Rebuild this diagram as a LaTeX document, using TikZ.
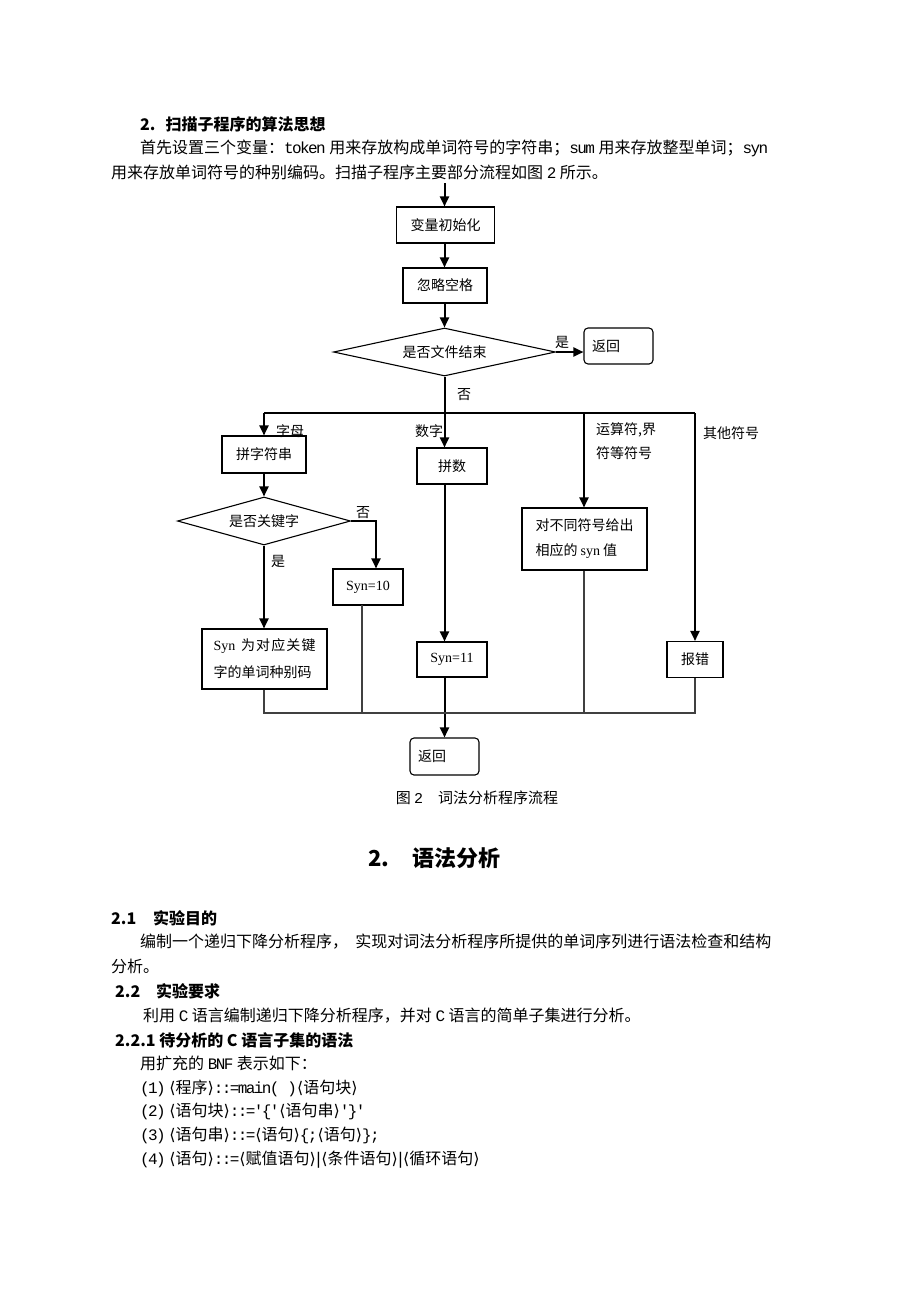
\documentclass[tikz,border=0pt]{standalone}
\usepackage{fontspec}
\setmainfont{Noto Sans CJK SC}
\newfontfamily\tnr{Liberation Serif}
\newfontfamily\lmo[LetterSpace=-10]{Liberation Mono}
\newfontfamily\djv{DejaVu Sans}
\usetikzlibrary{shapes.geometric,arrows.meta}
\newcommand\fsz[1]{\fontsize{#1pt}{#1pt}\selectfont}
\newcommand\lab{{\djv ⟨}}
\newcommand\rab{{\djv ⟩}}
\tikzset{
  txt/.style={anchor=west, inner sep=0pt, font=\fsz{16}},
  hd/.style={anchor=west, inner sep=0pt, font=\fsz{16}\bfseries},
  proc/.style={draw, line width=1.1pt, inner sep=0pt, font=\fsz{14}},
  dec/.style={draw, diamond, aspect=5, line width=1.1pt, inner sep=0pt, font=\fsz{14}},
  term/.style={draw, rounded corners=4pt, line width=1.1pt, inner ysep=0pt, inner xsep=8pt, align=left, font=\fsz{14}},
  arr/.style={line width=2pt, -{Triangle[length=10pt,width=9pt]}},
  ln/.style={line width=2pt},
  mln/.style={line width=1.4pt, black!75},
  lbl/.style={inner sep=0pt, font=\fsz{14}}
}
\begin{document}
\begin{tikzpicture}[x=1pt,y=-1pt]
\path[use as bounding box] (0,0) rectangle (920,1302);
\fill[white] (0,0) rectangle (920,1302);

% upper text
\node[hd] (h1) at (140,124) {2.\hspace{10pt}扫描子程序的算法思想};
\node[txt] (p1) at (140,148) {首先设置三个变量：{\lmo token} 用来存放构成单词符号的字符串；{\lmo sum} 用来存放整型单词；{\lmo syn}};
\node[txt] (p2) at (111,172) {用来存放单词符号的种别编码。扫描子程序主要部分流程如图 {\lmo 2} 所示。};

% flowchart
\coordinate (top) at (444.5,183);
\node[proc, minimum width=98pt, minimum height=36pt] (init) at (445.5,225) {变量初始化};
\node[proc, minimum width=84pt, minimum height=35pt] (skip) at (445,285.5) {忽略空格};
\node[dec, minimum width=222pt, minimum height=48pt] (eof) at (444.5,352) {是否文件结束};
\node[term, minimum height=36pt, text width=53pt] (ret1) at (618.5,346) {返回};
\node[lbl] (yes1) at (562,342) {是};
\node[lbl] (no1) at (464,395) {否};

\draw[arr] (top) -- (top |- init.north);
\draw[arr] (top |- init.south) -- (top |- skip.north);
\draw[arr] (top |- skip.south) -- (eof.north);
\draw[arr] (eof.east) -- (eof.east -| ret1.west);

\coordinate (sp) at (444.5,413);
\coordinate (spL) at (264,413);
\coordinate (spO) at (584,413);
\coordinate (spR) at (695,413);
\draw[ln] (eof.south) -- (sp);
\draw[ln] (spL) -- (spR);

\node[proc, minimum width=84pt, minimum height=37pt] (str) at (264,454.5) {拼字符串};
\node[proc, minimum width=70pt, minimum height=36pt] (num) at (452,466) {拼数};
\node[proc, minimum width=125pt, minimum height=62pt, align=left] (op) at (584.5,539) {对不同符号给出\\[11pt]相应的 {\tnr syn} 值};
\node[proc, minimum width=56pt, minimum height=36pt] (err) at (695,659.5) {报错};

\node[lbl] (lz) at (290,431) {字母};
\node[lbl] (ls) at (429,431) {数字};
\node[lbl, anchor=west] (lo1) at (596,430) {运算符,界};
\node[lbl, anchor=west] (lo2) at (596,453) {符等符号};
\node[lbl, anchor=west] (lq) at (703,433) {其他符号};

\draw[arr] (spL) -- (spL |- str.north);
\draw[arr] (sp) -- (sp |- num.north);
\draw[arr] (spO) -- (spO |- op.north);
\draw[arr] (spR) -- (spR |- err.north);

\node[dec, minimum width=173pt, minimum height=48pt] (kw) at (264,521) {是否关键字};
\draw[arr] (str.south) -- (kw.north);
\node[proc, minimum width=70pt, minimum height=36pt] (syn10) at (368,587) {\tnr Syn=10};
\coordinate (kwr) at (376,521);
\draw[arr] (kw.east) -- (kwr) -- (kwr |- syn10.north);
\node[lbl] (no2) at (363,513) {否};

\node[proc, minimum width=125pt, minimum height=60pt, text width=102pt, align=left] (kwbox) at (264.5,659) {\makebox[102pt][s]{{\tnr Syn}\hfill\ 为\hfill 对\hfill 应\hfill 关\hfill 键}\\[11pt]字的单词种别码};
\draw[arr] (kw.south) -- (kw.south |- kwbox.north);
\node[lbl] (yes2) at (278,561) {是};

\node[proc, minimum width=70pt, minimum height=35pt] (syn11) at (452,659.5) {\tnr Syn=11};
\draw[arr] (sp |- num.south) -- (sp |- syn11.north);

\node[term, minimum height=37pt, text width=53pt] (ret2) at (444.5,756.5) {返回};
\draw[arr] (sp |- syn11.south) -- (sp |- ret2.north);

\coordinate (mL) at (264,713);
\coordinate (mR) at (695,713);
\draw[mln] (spL |- kwbox.south) -- (mL) -- (mR) -- (spR |- err.south);
\draw[mln] (362,605) -- (362,713);
\draw[mln] (spO |- op.south) -- (spO |- mL);

\node[inner sep=0pt, font=\fsz{15}] (cap) at (477,798) {图 {\lmo 2}\quad 词法分析程序流程};

% lower text
\node[anchor=west, inner sep=0pt, font=\fsz{22}\bfseries] (h2) at (368,858) {\makebox[44pt][l]{2.}语法分析};
\node[hd] (h21) at (111,918) {\makebox[42pt][l]{2.1}实验目的};
\node[txt] (q1) at (140,942) {编制一个递归下降分析程序，\ \ 实现对词法分析程序所提供的单词序列进行语法检查和结构};
\node[txt] (q2) at (111,966) {分析。};
\node[hd] (h22) at (115,991) {\makebox[41pt][l]{2.2}实验要求};
\node[txt] (q3) at (143,1016) {利用 {\lmo C} 语言编制递归下降分析程序，并对 {\lmo C} 语言的简单子集进行分析。};
\node[hd] (h221) at (115,1040) {2.2.1 待分析的 C 语言子集的语法};
\node[txt] (q4) at (140,1063) {用扩充的 {\lmo BNF} 表示如下：};
\node[txt] (b1) at (140,1088) {{\lmo (1)} \lab 程序\rab{\lmo ::=main( )}\lab 语句块\rab};
\node[txt] (b2) at (140,1111) {{\lmo (2)} \lab 语句块\rab{\lmo ::=′\{′}\lab 语句串\rab{\lmo ′\}′}};
\node[txt] (b3) at (140,1135) {{\lmo (3)} \lab 语句串\rab{\lmo ::=}\lab 语句\rab{\lmo \{;}\lab 语句\rab{\lmo \};}};
\node[txt] (b4) at (140,1160) {{\lmo (4)} \lab 语句\rab{\lmo ::=}\lab 赋值语句\rab{\djv |}\lab 条件语句\rab{\djv |}\lab 循环语句\rab};
\end{tikzpicture}
\end{document}
